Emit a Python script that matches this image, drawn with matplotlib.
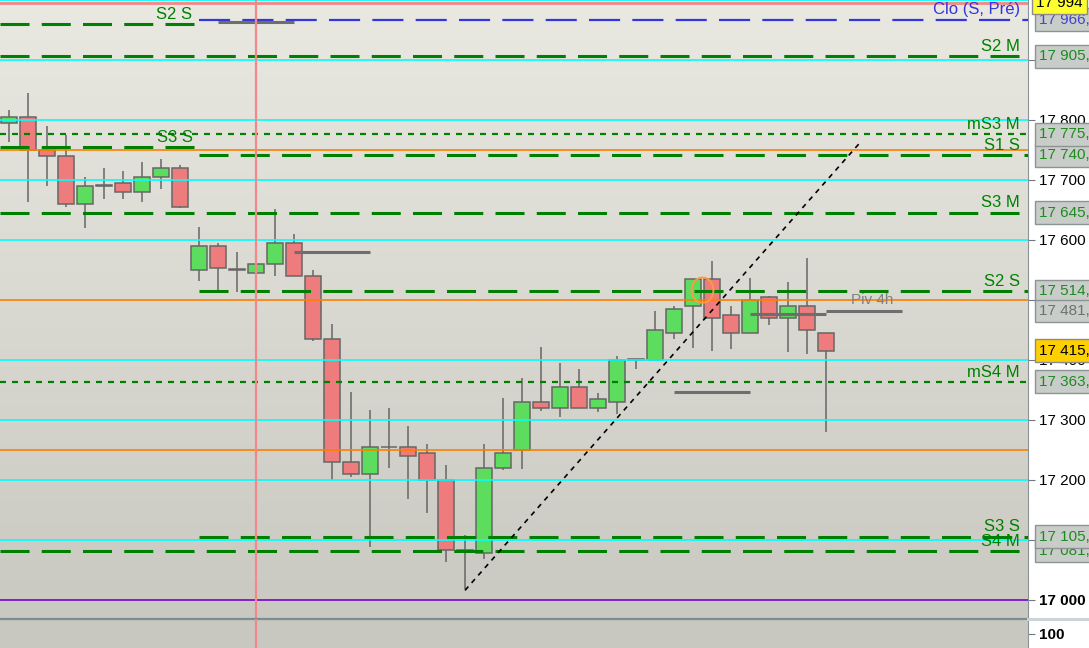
import numpy as np
import matplotlib
matplotlib.use("Agg")
import matplotlib.pyplot as plt
from matplotlib.colors import LinearSegmentedColormap
from matplotlib.patches import Ellipse
from matplotlib.lines import Line2D

plt.rcParams['font.family'] = ['Liberation Sans', 'DejaVu Sans']

# bougies horaires (O, H, B, C)
opens = [17794, 17804, 17749, 17740, 17659, 17691, 17694, 17679, 17705, 17720,
         17550, 17590, 17550, 17545, 17560, 17595, 17540, 17435, 17229, 17209,
         17255, 17254, 17244, 17200, 17081, 17079, 17220, 17250, 17329, 17320,
         17354, 17320, 17330, 17400, 17400, 17445, 17489, 17534, 17474, 17445,
         17504, 17469, 17490, 17444]
highs = [17816, 17845, 17789, 17774, 17704, 17719, 17714, 17729, 17734, 17725,
         17621, 17594, 17579, 17569, 17651, 17609, 17549, 17460, 17346, 17316,
         17320, 17290, 17259, 17224, 17109, 17259, 17336, 17369, 17421, 17394,
         17384, 17344, 17406, 17402, 17481, 17489, 17535, 17564, 17489, 17536,
         17506, 17529, 17569, 17444]
lows = [17763, 17663, 17689, 17655, 17620, 17667, 17668, 17663, 17685, 17653,
        17532, 17517, 17513, 17516, 17540, 17540, 17432, 17199, 17204, 17088,
        17220, 17168, 17145, 17064, 17019, 17068, 17216, 17218, 17315, 17305,
        17319, 17313, 17310, 17385, 17399, 17434, 17420, 17415, 17418, 17444,
        17458, 17413, 17410, 17279]
closes = [17804, 17749, 17739, 17659, 17689, 17690, 17679, 17705, 17720, 17655,
          17590, 17553, 17550, 17560, 17595, 17540, 17435, 17229, 17209, 17255,
          17255, 17240, 17200, 17083, 17084, 17220, 17245, 17329, 17320, 17354,
          17320, 17334, 17400, 17400, 17449, 17484, 17534, 17469, 17445, 17500,
          17469, 17490, 17449, 17415.1]

# niveaux pivots
pivot_labels = ["S2 M", "S3 M", "S4 M", "S1 S", "S2 S", "S3 S", "mS3 M", "mS4 M"]
pivot_values = [17905.5, 17645.2, 17081.5, 17740.4, 17514.2, 17105.6, 17775.4, 17363.4]
old_labels = ["S2 S", "S3 S"]
old_values = [17959, 17754]
clo_label = "Clo (S, Pré)"
clo_value = 17966.7
session_start = 10  # debut de la seance S

# pivots 4h
piv_start = [11, 15, 35, 39, 43]
piv_values = [17963, 17579, 17346, 17476, 17481.3]
piv_label = "Piv 4h"

# oblique
trend_x = [24, 44.8]
trend_y = [17016, 17762]

last_price = 17415.1
top_price = 17994
session_bar = 13
circle_x, circle_y = 36.5, 17516

cyan_levels = [17100, 17200, 17300, 17400, 17600, 17700, 17800, 17900, 18000]
orange_levels = [17250, 17500, 17750]
ticks = list(range(17000, 18000, 100))


def fr(v, dec=1):
    return f"{v:,.{dec}f}".replace(",", " ").replace(".", ",")


lab_size = 11

W, H = 1089, 648
fig = plt.figure(figsize=(W / 100, H / 100), dpi=100)
fig.patch.set_facecolor('white')
right = 1028 / W
split = (H - 619) / H
ax = fig.add_axes([0, split, right, 1 - split])
ax2 = fig.add_axes([0, 0, right, split])

xmin, xmax = -9 / 19, (1028 - 9) / 19
ymin, ymax = 16968.3, 17999.2
ax.set_xlim(xmin, xmax)
ax.set_ylim(ymin, ymax)

# fond degrade
cmap = LinearSegmentedColormap.from_list('bg', ['#c9c9c1', '#e9e9e2'])
ax.imshow(np.linspace(0, 1, 256).reshape(-1, 1), cmap=cmap, origin='lower',
          extent=[xmin, xmax, ymin, ymax], aspect='auto', zorder=0)

# bougies
x = np.arange(len(opens))
o = np.array(opens); c = np.array(closes)
ax.vlines(x, lows, highs, color='#666666', lw=1.1, zorder=2)
colors = ['#5ddd5d' if cc > oo else ('#ef7c7c' if cc < oo else '#666666')
          for oo, cc in zip(o, c)]
body = np.abs(c - o)
ax.bar(x, np.where(body < 1, 0.5, body), bottom=np.minimum(o, c), width=0.79,
       color=colors, edgecolor='#666666', linewidth=1.1, zorder=3)

# grille
for v in cyan_levels:
    ax.axhline(v, color='#00ffff', lw=1.2, zorder=4)
for v in orange_levels:
    ax.axhline(v, color='#ff8000', lw=1.2, zorder=4)
ax.axhline(17000, color='#7a00d0', lw=1.2, zorder=4)
ax.axhline(top_price, color='#f08888', lw=2, zorder=4)

green = '#008000'
ytr = ax.get_yaxis_transform()
for lab, v in zip(pivot_labels, pivot_values):
    if lab.startswith('m'):
        ax.plot([xmin, xmax], [v, v], color=green, lw=1.6, dashes=(2.7, 2.7), zorder=5)
    elif lab.endswith('M'):
        ax.plot([xmin, xmax], [v, v], color=green, lw=2.2, dashes=(9.5, 4), zorder=5)
    else:
        ax.plot([session_start, xmax], [v, v], color=green, lw=2.2, dashes=(9.5, 4),
                zorder=5)
    ax.annotate(lab, xy=(1, v), xycoords=ytr, xytext=(-6, 1.5), textcoords='offset points',
                ha='right', va='bottom', color=green, fontsize=12, zorder=6)

for lab, v in zip(old_labels, old_values):
    ax.plot([xmin, session_start - 0.2], [v, v], color=green, lw=2.2, dashes=(9.5, 4),
            zorder=5)
    ax.annotate(lab, xy=(session_start - 0.2, v), xytext=(-2, 1.5),
                textcoords='offset points', ha='right', va='bottom', color=green,
                fontsize=12, zorder=6)

ax.plot([session_start, xmax], [clo_value, clo_value], color='#3535dd', lw=1.6,
        dashes=(14, 5.5), zorder=5)
ax.annotate(clo_label, xy=(1, clo_value), xycoords=ytr, xytext=(-6, 1.5),
            textcoords='offset points', ha='right', va='bottom', color='#3535dd',
            fontsize=12, zorder=6)

for s, v in zip(piv_start, piv_values):
    ax.plot([s, s + 4], [v, v], color='#6e6e6e', lw=2.2, zorder=5,
            solid_capstyle='butt')
ax.annotate(piv_label, xy=(piv_start[-1] + 4, piv_values[-1]), xytext=(-6, 3),
            textcoords='offset points', ha='right', va='bottom', color='#808080',
            fontsize=11, zorder=6)

ax.plot(trend_x, trend_y, color='black', lw=1.2, dashes=(3, 3), zorder=7)
ax.add_patch(Ellipse((circle_x, circle_y), 1.15, 42, fill=False,
                     edgecolor='#ff9944', lw=1.4, zorder=7))

for a in (ax, ax2):
    a.axvline(session_bar, color='#f08a8a', lw=1.6, zorder=8)

# axe de droite
ax.yaxis.tick_right()
ax.set_yticks(ticks, [fr(t, 0) for t in ticks])
ax.tick_params(axis='y', length=5, color='#707880', pad=3, labelsize=lab_size)
ax.yaxis.get_major_ticks()[0].label2.set_fontweight('bold')
ax.set_xticks([])
for sp in ax.spines.values():
    sp.set_visible(False)
ax.spines['right'].set_visible(True)
ax.spines['right'].set_color('#8a9498')

box_gray = dict(boxstyle='square,pad=0.28', fc='#c9cdc9', ec='#8c9494', lw=1)


def side_box(v, txt, col, box, dx=8, z=9):
    ax.annotate(txt, xy=(1, v), xycoords=ytr, xytext=(dx, 0), textcoords='offset points',
                ha='left', va='center', color=col, fontsize=lab_size,
                bbox=box, annotation_clip=False, zorder=z)


for v in pivot_values:
    side_box(v, fr(v), '#1f8a1f', box_gray)
side_box(clo_value, fr(clo_value), '#4444cc', box_gray)
side_box(piv_values[-1], fr(piv_values[-1]), '#707070', box_gray)
side_box(last_price, fr(last_price), 'black',
         dict(boxstyle='square,pad=0.28', fc='#ffd000', ec='#8c8c8c', lw=1), z=10)
side_box(top_price, fr(top_price, 0), 'black',
         dict(boxstyle='square,pad=0.28', fc='#ffff30', ec='#8c8c8c', lw=1), dx=6, z=10)

# panneau du bas
ax2.set_xlim(xmin, xmax)
ax2.set_ylim(0, 200)
ax2.set_facecolor('#c8c8c0')
ax2.yaxis.tick_right()
ax2.set_yticks([100], ["100"])
ax2.tick_params(axis='y', length=5, color='#707880', pad=3, labelsize=11)
ax2.yaxis.get_major_ticks()[0].label2.set_fontweight('bold')
ax2.set_xticks([])
for sp in ax2.spines.values():
    sp.set_visible(False)
ax2.spines['right'].set_visible(True)
ax2.spines['right'].set_color('#8a9498')
ax2.spines['top'].set_visible(True)
ax2.spines['top'].set_color('#7a8c94')
ax2.spines['top'].set_linewidth(1.6)
fig.add_artist(Line2D([right, 1], [split, split], transform=fig.transFigure,
                      color='#ccd4d8', lw=2.2))

fig.savefig('out.png', dpi=100)
